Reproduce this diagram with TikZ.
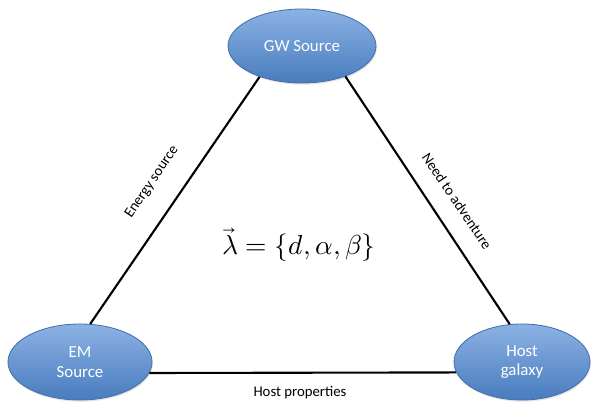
\documentclass[tikz,border=0pt]{standalone}
\usepackage{fontspec}
\setmainfont{Carlito}
\usepackage{unicode-math}
\setmathfont{Latin Modern Math}
\usetikzlibrary{shapes.geometric,shadows}

\definecolor{blobtop}{RGB}{140,178,228}
\definecolor{blobbot}{RGB}{72,124,190}
\definecolor{blobedge}{RGB}{70,112,172}

\begin{document}
\begin{tikzpicture}[
  x=0.025cm, y=0.025cm,
  blob/.style={ellipse, draw=blobedge, line width=0.6pt, top color=blobtop, bottom color=blobbot,
    text=white, align=center, inner sep=0pt, font=\fontsize{12}{14}\selectfont,
    drop shadow={opacity=0.2, shadow xshift=0.6pt, shadow yshift=-1.2pt}},
  link/.style={line width=1.5pt},
  tag/.style={font=\fontsize{10.5}{12}\selectfont}
]
  \useasboundingbox (0,0) rectangle (593,402);

  \node[blob, minimum width=3.7cm, minimum height=1.85cm] (gw) at (302, 356) {GW Source};
  \node[blob, minimum width=3.6cm, minimum height=1.9cm] (em) at (80, 40) {EM\\Source};
  \node[blob, minimum width=3.4cm, minimum height=1.9cm] (host) at (522, 40) {Host\\galaxy};

  \draw[link] (gw.216) -- (em.75);
  \draw[link] (gw.-35) -- (host.108);
  \draw[link] (em.-9) -- (host.189);

  \node[tag, rotate=56] (lbla) at (152, 220) {Energy source};
  \node[tag, rotate=-56] (lblb) at (457, 201) {Need to adventure};
  \node[tag] (lblc) at (300, 9) {Host properties};

  \node[font=\fontsize{19.5}{22}\selectfont] (lam) at (299, 157) {$\vec{\lambda} = \{d, \alpha, \beta\}$};
\end{tikzpicture}
\end{document}
